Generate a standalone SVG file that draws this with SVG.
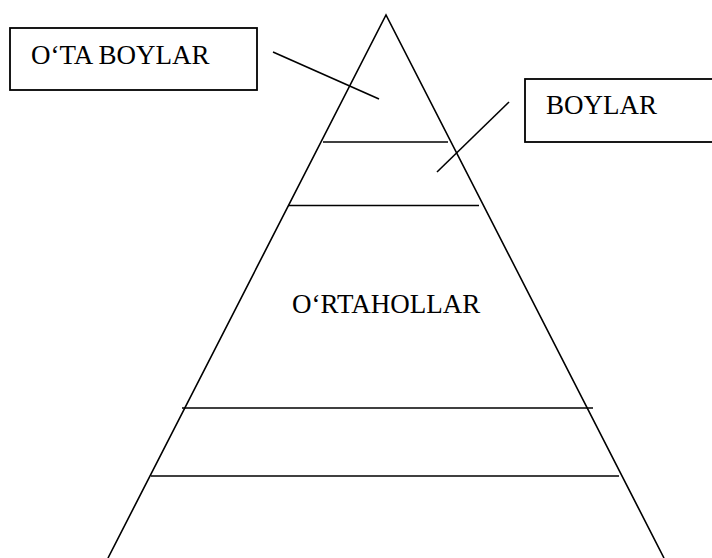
<svg xmlns="http://www.w3.org/2000/svg" width="712" height="558" viewBox="0 0 712 558">
<style>
.ln{stroke:#000;stroke-width:1.6;fill:none}
.box{stroke:#000;stroke-width:1.8;fill:#fff}
.t{font-family:"Liberation Serif","Times New Roman",serif;font-size:27px;fill:#000}
</style>
<rect width="712" height="558" fill="#fff"/>
<g id="pyramid">
<polyline class="ln" points="108,558 386,15 664,558"/>
<line class="ln" x1="323" y1="142" x2="448" y2="142"/>
<line class="ln" x1="288" y1="205.5" x2="479" y2="205.5"/>
<line class="ln" x1="182" y1="408" x2="593" y2="408"/>
<line class="ln" x1="151" y1="476" x2="619" y2="476"/>
</g>
<g id="ortahollar">
<text class="t" x="292" y="313">O‘RTAHOLLAR</text>
</g>
<g id="ota-boylar">
<rect class="box" x="10" y="28" width="247" height="62"/>
<text class="t" x="31" y="64">O‘TA BOYLAR</text>
</g>
<g id="boylar">
<rect class="box" x="525" y="79" width="200" height="63"/>
<text class="t" x="546" y="114">BOYLAR</text>
</g>
<g id="connectors">
<line class="ln" x1="273" y1="52" x2="379" y2="99"/>
<line class="ln" x1="509" y1="102" x2="437" y2="172"/>
</g>
</svg>
